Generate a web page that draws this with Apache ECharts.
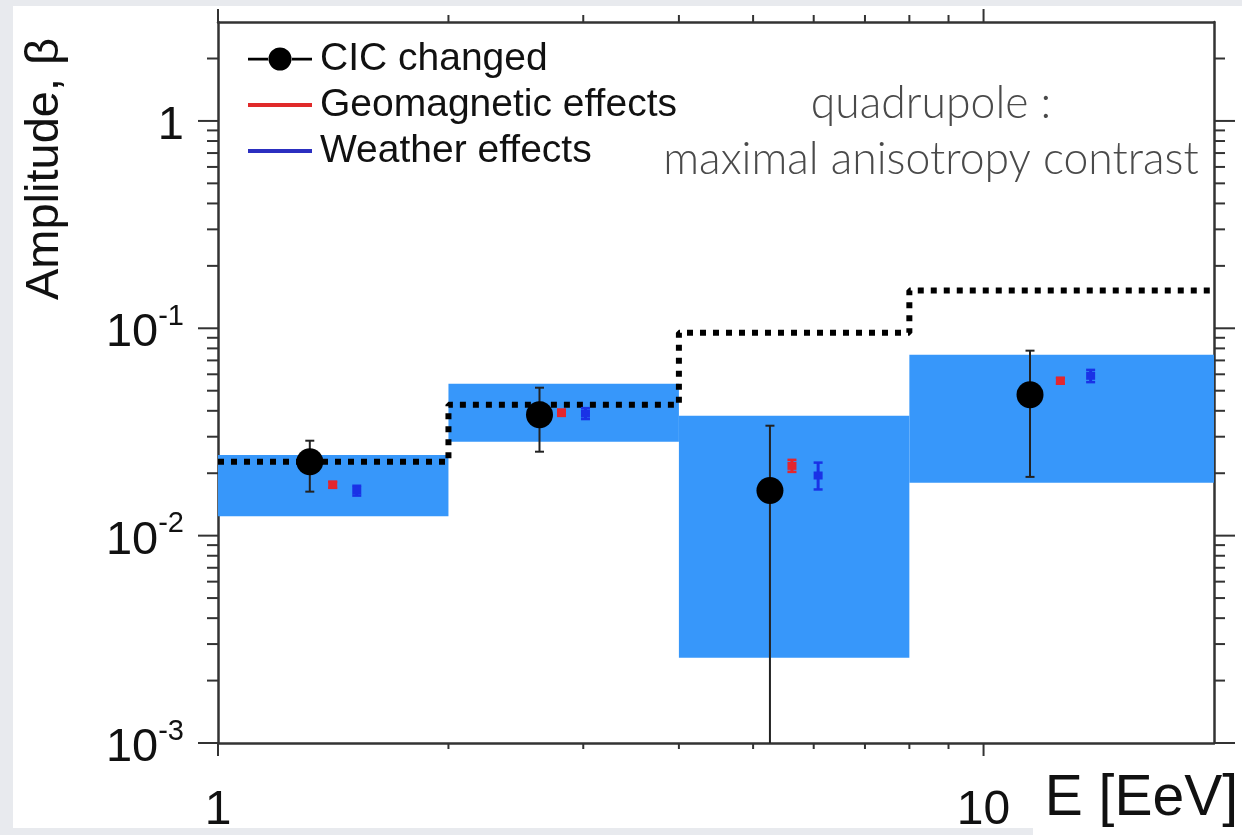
<!DOCTYPE html>
<html><head><meta charset="utf-8">
<script src="https://cdn.jsdelivr.net/npm/echarts@6/dist/echarts.min.js"></script>
<style>html,body{margin:0;padding:0;background:#fff}#c{width:1242px;height:835px}</style>
</head><body><div id="c"></div>
<script>
// ---- data ----
const binLow = [1, 2, 4, 8];
const binHigh = [2, 4, 8, 20];
const bandLow = [0.0124, 0.0284, 0.00258, 0.018];
const bandHigh = [0.0245, 0.054, 0.0379, 0.0745];
const stepX = [1, 2, 4, 8, 20];
const stepY = [0.0227, 0.0428, 0.0951, 0.152, 0.152];
const cicX = [1.318, 2.63, 5.26, 11.5];
const cicY = [0.0227, 0.0383, 0.0165, 0.0478];
const cicLow = [0.0163, 0.0254, 0.0005, 0.0192];
const cicHigh = [0.0287, 0.0517, 0.0339, 0.078];
const geoX = [1.412, 2.81, 5.62, 12.6];
const geoY = [0.0176, 0.0392, 0.0217, 0.0558];
const geoLow = [0.0170, 0.0378, 0.0203, 0.0540];
const geoHigh = [0.0182, 0.0405, 0.0232, 0.0577];
const wthX = [1.518, 3.02, 6.08, 13.8];
const wthY = [0.0165, 0.0388, 0.0195, 0.059];
const wthLow = [0.0156, 0.0365, 0.0167, 0.055];
const wthHigh = [0.0174, 0.0412, 0.0225, 0.063];
const yTickMajor = [0.001, 0.01, 0.1, 1];
const yTickMinor = [0.002,0.003,0.004,0.005,0.006,0.007,0.008,0.009,
                    0.02,0.03,0.04,0.05,0.06,0.07,0.08,0.09,
                    0.2,0.3,0.4,0.5,0.6,0.7,0.8,0.9, 2];
const xTickMajor = [1, 10];
const xTickMinor = [2, 3, 4, 5, 6, 7, 8, 9];
const xMin = 1, xMax = 20, yMin = 0.001, yMax = 3;
const seriesNames = ['CIC changed', 'Geomagnetic effects', 'Weather effects'];
const noteLines = ['quadrupole :', 'maximal anisotropy contrast'];

// ---- build ----
const tickData = [];
yTickMajor.forEach(v => { tickData.push([xMin, v, 0, 1]); tickData.push([xMax, v, 1, 1]); });
yTickMinor.forEach(v => { tickData.push([xMin, v, 0, 0]); tickData.push([xMax, v, 1, 0]); });
xTickMajor.forEach(v => { tickData.push([v, yMin, 2, 1]); tickData.push([v, yMax, 3, 1]); });
xTickMinor.forEach(v => { tickData.push([v, yMin, 2, 0]); tickData.push([v, yMax, 3, 0]); });

const bandData = binLow.map((x, i) => [x, binHigh[i], bandLow[i], bandHigh[i]]);
const stepData = stepX.map((x, i) => [x, stepY[i]]);
const cicData = cicX.map((x, i) => [x, cicY[i]]);
const cicErr = cicX.map((x, i) => [x, cicLow[i], cicHigh[i]]);
const geoData = geoX.map((x, i) => [x, geoY[i], geoLow[i], geoHigh[i]]);
const wthData = wthX.map((x, i) => [x, wthY[i], wthLow[i], wthHigh[i]]);

const AX = '#333';
const FONT = '"Liberation Sans", Arial, Helvetica, sans-serif';

function smallErr(color) {
  return function (params, api) {
    const c = api.coord([api.value(0), api.value(1)]);
    const lo = api.coord([api.value(0), api.value(2)]);
    const hi = api.coord([api.value(0), api.value(3)]);
    return { type: 'group', children: [
      { type: 'line', shape: { x1: c[0], y1: hi[1], x2: c[0], y2: lo[1] }, style: { stroke: color, lineWidth: 3 } },
      { type: 'line', shape: { x1: c[0] - 4.5, y1: hi[1], x2: c[0] + 4.5, y2: hi[1] }, style: { stroke: color, lineWidth: 2.5 } },
      { type: 'line', shape: { x1: c[0] - 4.5, y1: lo[1], x2: c[0] + 4.5, y2: lo[1] }, style: { stroke: color, lineWidth: 2.5 } },
      { type: 'rect', shape: { x: c[0] - 4.5, y: c[1] - 4, width: 9, height: 8 }, style: { fill: color } }
    ]};
  };
}

const chart = echarts.init(document.getElementById('c'), null, { renderer: 'canvas' });
chart.setOption({
  animation: false,
  backgroundColor: '#ffffff',
  grid: { left: 218, right: 28, top: 22, bottom: 90 },
  xAxis: [
    { type: 'log', logBase: 10, min: xMin, max: xMax, position: 'bottom',
      axisLine: { show: true, lineStyle: { color: AX, width: 2.5 } },
      axisTick: { show: false }, splitLine: { show: false },
      axisLabel: { show: true, fontSize: 48, fontFamily: FONT, color: '#111', margin: 44,
        showMaxLabel: false, formatter: v => String(Math.round(v)) } },
    { type: 'log', logBase: 10, min: xMin, max: xMax, position: 'top',
      axisLine: { show: true, lineStyle: { color: AX, width: 2.5 } },
      axisTick: { show: false }, splitLine: { show: false }, axisLabel: { show: false } }
  ],
  yAxis: [
    { type: 'log', logBase: 10, min: yMin, max: yMax, position: 'left',
      axisLine: { show: true, lineStyle: { color: AX, width: 2.5 } },
      axisTick: { show: false }, splitLine: { show: false },
      axisLabel: { show: true, margin: 34, color: '#111', fontFamily: FONT, fontSize: 46,
        showMaxLabel: false,
        formatter: v => {
          const e = Math.round(Math.log10(v));
          if (e === 0) return '{b|1}';
          return '{b|10}{s|' + e + '}';
        },
        rich: {
          b: { fontSize: 47, fontFamily: FONT, color: '#111', lineHeight: 52, padding: [10, 0, 0, 0] },
          s: { fontSize: 29, fontFamily: FONT, color: '#111', verticalAlign: 'top', lineHeight: 30 }
        } } },
    { type: 'log', logBase: 10, min: yMin, max: yMax, position: 'right',
      axisLine: { show: true, lineStyle: { color: AX, width: 2.5 } },
      axisTick: { show: false }, splitLine: { show: false }, axisLabel: { show: false } }
  ],
  legend: {
    orient: 'vertical', left: 243, top: 34, itemWidth: 64, itemHeight: 24, itemGap: 6,
    selectedMode: false,
    textStyle: { fontSize: 39, fontFamily: FONT, color: '#111', lineHeight: 40, padding: [0, 0, 0, 3] },
    data: [
      { name: seriesNames[0], icon: 'path://M0,0M64,24M0,10.8h21v2.6h-21zM43,10.8h21v2.6h-21zM20.5,12a11.5,11.5 0 1 0 23,0a11.5,11.5 0 1 0 -23,0z', itemStyle: { color: '#000', opacity: 1 } },
      { name: seriesNames[1], icon: 'path://M0,0M64,24M0,10h64v4h-64z', itemStyle: { color: '#e02a2a', opacity: 1 } },
      { name: seriesNames[2], icon: 'path://M0,0M64,24M0,10h64v4h-64z', itemStyle: { color: '#2b2fc0', opacity: 1 } }
    ]
  },
  graphic: [
    { type: 'text', x: 45, y: 169, rotation: Math.PI / 2, z: 50,
      style: { text: 'Amplitude, β', font: '47px ' + FONT, fill: '#111', align: 'center', verticalAlign: 'middle' } },
    { type: 'text', x: 1238, y: 799, z: 50,
      style: { text: 'E [EeV]', font: '57px ' + FONT, fill: '#111', align: 'right', verticalAlign: 'middle' } },
    { type: 'text', x: 931, y: 104, z: 50,
      style: { text: noteLines[0], font: '300 44.5px Lato, "Open Sans", sans-serif', fill: '#4a4a4a', align: 'center', verticalAlign: 'middle' } },
    { type: 'text', x: 931, y: 160, z: 50,
      style: { text: noteLines[1], font: '300 44.5px Lato, "Open Sans", sans-serif', fill: '#4a4a4a', align: 'center', verticalAlign: 'middle' } },
    { type: 'rect', z: 100, shape: { x: 0, y: 0, width: 13, height: 835 }, style: { fill: '#e8eaee' } },
    { type: 'rect', z: 100, shape: { x: 0, y: 0, width: 1242, height: 6 }, style: { fill: '#e8eaee' } },
    { type: 'rect', z: 100, shape: { x: 0, y: 828, width: 1033, height: 7 }, style: { fill: '#e8eaee' } }
  ],
  series: [
    { type: 'custom', name: 'band', silent: true, z: 1, data: bandData,
      encode: { x: [0, 1], y: [2, 3] },
      renderItem: (params, api) => {
        const p0 = api.coord([api.value(0), api.value(3)]);
        const p1 = api.coord([api.value(1), api.value(2)]);
        return { type: 'rect', shape: { x: p0[0], y: p0[1], width: p1[0] - p0[0], height: p1[1] - p0[1] },
          style: { fill: '#3797fa' } };
      } },
    { type: 'line', name: 'quadrupole', silent: true, z: 2, data: stepData, step: 'end',
      showSymbol: false, symbol: 'none',
      lineStyle: { color: '#000', width: 6, type: [6, 7], cap: 'butt' } },
    { type: 'custom', name: 'cicErr', silent: true, z: 3, data: cicErr, clip: true,
      encode: { x: 0, y: [1, 2] },
      renderItem: (params, api) => {
        const lo = api.coord([api.value(0), api.value(1)]);
        const hi = api.coord([api.value(0), api.value(2)]);
        return { type: 'group', children: [
          { type: 'line', shape: { x1: lo[0], y1: hi[1], x2: lo[0], y2: lo[1] }, style: { stroke: '#222', lineWidth: 2 } },
          { type: 'line', shape: { x1: lo[0] - 4.5, y1: hi[1], x2: lo[0] + 4.5, y2: hi[1] }, style: { stroke: '#222', lineWidth: 2 } },
          { type: 'line', shape: { x1: lo[0] - 4.5, y1: lo[1], x2: lo[0] + 4.5, y2: lo[1] }, style: { stroke: '#222', lineWidth: 2 } }
        ]};
      } },
    { type: 'scatter', name: seriesNames[0], z: 4, data: cicData, symbol: 'circle', symbolSize: 27,
      itemStyle: { color: '#000', opacity: 1 } },
    { type: 'custom', name: seriesNames[1], z: 4, data: geoData, encode: { x: 0, y: [1, 2, 3] },
      itemStyle: { color: '#e02a2a' }, renderItem: smallErr('#e3262e') },
    { type: 'custom', name: seriesNames[2], z: 4, data: wthData, encode: { x: 0, y: [1, 2, 3] },
      itemStyle: { color: '#2b2fc0' }, renderItem: smallErr('#1a32e6') },
    { type: 'custom', name: 'ticks', silent: true, z: 5, data: tickData, encode: { x: 0, y: 1 },
      renderItem: (params, api) => {
        const p = api.coord([api.value(0), api.value(1)]);
        const side = api.value(2), major = api.value(3);
        let s;
        if (side === 0) { const l = major ? 20 : 11; s = { x1: p[0] - l, y1: p[1], x2: p[0], y2: p[1] }; }
        else if (side === 1) { const l = major ? 21 : 11; s = { x1: p[0], y1: p[1], x2: p[0] + l, y2: p[1] }; }
        else if (side === 2) { const l = major ? 13 : 6; s = { x1: p[0], y1: p[1], x2: p[0], y2: p[1] + l }; }
        else { const l = major ? 13 : 7; s = { x1: p[0], y1: p[1] - l, x2: p[0], y2: p[1] }; }
        return { type: 'line', shape: s, style: { stroke: AX, lineWidth: 2 } };
      } }
  ]
});
</script></body></html>
